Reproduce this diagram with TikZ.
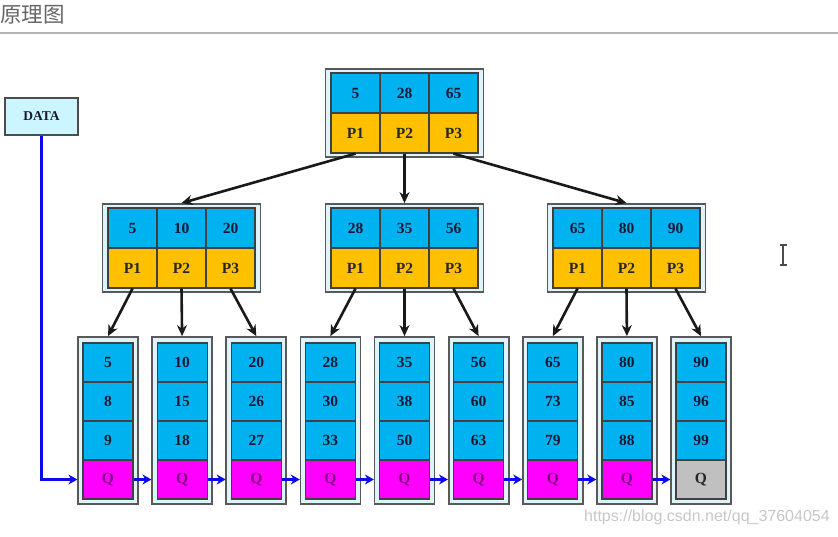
\documentclass[tikz,border=0pt]{standalone}
\usepackage{fontspec}
\setmainfont{Liberation Serif}
\newfontfamily\cjkfont{Noto Sans CJK SC}
\newfontfamily\wmfont{Liberation Sans}
\usetikzlibrary{arrows.meta}
\definecolor{keyblue}{RGB}{0,178,240}
\definecolor{ptryel}{RGB}{255,192,0}
\definecolor{qmag}{RGB}{255,0,255}
\definecolor{qtext}{RGB}{128,0,128}
\definecolor{qgray}{RGB}{192,192,192}
\definecolor{framefill}{RGB}{222,244,250}
\definecolor{datafill}{RGB}{204,246,255}
\definecolor{linkblue}{RGB}{10,10,235}
\definecolor{txt}{RGB}{25,25,55}
\begin{document}
\begin{tikzpicture}[x=1pt,y=-1pt,
  nodeframe/.style={draw=black!65,line width=1.8pt,fill=framefill,inner sep=0pt},
  cellbase/.style={draw=black!75,line width=1.2pt,inner sep=0pt,minimum width=49pt,minimum height=40pt,
    font=\fontsize{15.5}{17}\selectfont\bfseries,text=txt},
  keycell/.style={cellbase,fill=keyblue},
  ptrcell/.style={cellbase,fill=ptryel,text=black!85},
  leafcell/.style={cellbase,fill=keyblue,minimum width=50pt,minimum height=39pt},
  qcell/.style={leafcell,fill=qmag,text=qtext},
  qlast/.style={leafcell,fill=qgray,text=black!85},
  datanode/.style={draw=black!70,line width=1.8pt,fill=datafill,minimum width=73pt,minimum height=37pt,
    inner sep=0pt,font=\fontsize{13.5}{15}\selectfont\bfseries,text=txt},
  treearrow/.style={draw=black!90,line width=2.6pt,-{Stealth[length=11pt,width=10pt]}},
  linkarrow/.style={draw=linkblue,line width=2.8pt,-{Stealth[length=9pt,width=10pt]}}]
\useasboundingbox (0,0) rectangle (838,536);
% title and rule
\node[anchor=west,inner sep=0pt,text=black!60,font=\cjkfont\fontsize{21.5}{23}\selectfont] (title) at (0,15) {原理图};
\draw[black!30,line width=1.8pt] (0,33) -- (838,33);
% internal nodes
\foreach \n/\cx/\cy/\a/\b/\c in {r/404.5/113/5/28/65, m1/181.5/248/5/10/20, m2/404.5/248/28/35/56, m3/626.5/248/65/80/90}{
  \node[nodeframe,minimum width=158pt,minimum height=88pt] (\n) at (\cx,\cy) {};
  \node[keycell] (\n-k1) at (\cx-49,\cy-20) {\a};
  \node[keycell] (\n-k2) at (\cx,\cy-20) {\b};
  \node[keycell] (\n-k3) at (\cx+49,\cy-20) {\c};
  \node[ptrcell] (\n-p1) at (\cx-49,\cy+20) {P1};
  \node[ptrcell] (\n-p2) at (\cx,\cy+20) {P2};
  \node[ptrcell] (\n-p3) at (\cx+49,\cy+20) {P3};
}
% leaves
\foreach \i/\cx/\a/\b/\c/\qs in {1/108/5/8/9/qcell, 2/182.1/10/15/18/qcell, 3/256.3/20/26/27/qcell,
  4/330.4/28/30/33/qcell, 5/404.5/35/38/50/qcell, 6/478.6/56/60/63/qcell,
  7/552.8/65/73/79/qcell, 8/626.9/80/85/88/qcell, 9/701/90/96/99/qlast}{
  \node[nodeframe,minimum width=60pt,minimum height=167pt] (l\i) at (\cx,420.5) {};
  \node[leafcell] (l\i-a) at (\cx,362.5) {\a};
  \node[leafcell] (l\i-b) at (\cx,401.5) {\b};
  \node[leafcell] (l\i-c) at (\cx,440.5) {\c};
  \node[\qs] (q\i) at (\cx,479.5) {Q};
}
% DATA
\node[datanode] (data) at (41.5,116.5) {DATA};
% tree arrows
\foreach \j in {1,2,3}{\draw[treearrow] (r-p\j.south) -- (m\j.north);}
\foreach \m/\p/\l in {m1/1/1,m1/2/2,m1/3/3,m2/1/4,m2/2/5,m2/3/6,m3/1/7,m3/2/8,m3/3/9}{
  \draw[treearrow] (\m-p\p.south) -- (l\l.north);}
% leaf links
\draw[linkarrow,shorten >=5pt] (data.south) |- (q1.west);
\foreach \i/\j in {1/2,2/3,3/4,4/5,5/6,6/7,7/8,8/9}{
  \draw[linkarrow,shorten >=5pt] (q\i.east) -- (q\j.west);}
% cursor
\draw[black!70,line width=1.4pt] (783,245) -- (783,265) (779.5,245) -- (786.5,245) (779.5,265) -- (786.5,265);
% watermark
\node[anchor=west,inner sep=0pt,text=black!22,font=\wmfont\fontsize{16}{18}\selectfont] (wm) at (584,517) {https://blog.csdn.net/qq\_37604054};
\end{tikzpicture}
\end{document}
